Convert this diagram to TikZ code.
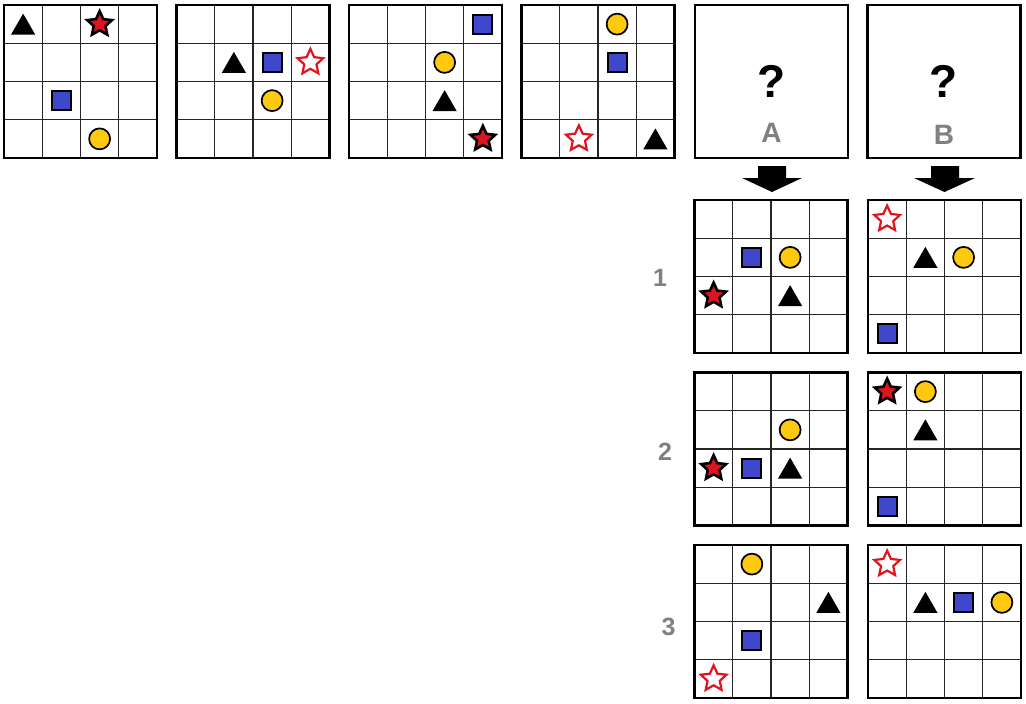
\documentclass[tikz,border=0pt]{standalone}
\usepackage{fontspec}
\setmainfont{Liberation Sans}
\usetikzlibrary{shapes.geometric}
\definecolor{sqblue}{HTML}{3F48CC}
\definecolor{cgold}{HTML}{FFC90E}
\definecolor{sred}{HTML}{E0141E}
\definecolor{lblgray}{HTML}{808080}
\tikzset{
  gridbox/.style={draw=black, line width=2.5pt, minimum size=153pt, inner sep=0pt, outer sep=0pt, fill=none},
  gridline/.style={draw=black!85, line width=1.2pt},
  tri/.style={regular polygon, regular polygon sides=3, fill=black, minimum size=28pt, inner sep=0pt, yshift=-3.5pt},
  sqr/.style={rectangle, fill=sqblue, draw=black, line width=2pt, minimum size=19pt, inner sep=0pt},
  circ/.style={circle, fill=cgold, draw=black, line width=1.7pt, minimum size=21pt, inner sep=0pt},
  fstar/.style={star, star points=5, star point ratio=2.1, fill=sred, draw=black, line width=2.6pt, minimum size=26pt, inner sep=0pt},
  ostar/.style={star, star points=5, star point ratio=2.1, fill=white, draw=sred, line width=2.2pt, minimum size=27pt, inner sep=0pt},
  qmark/.style={font=\bfseries\fontsize{46}{46}\selectfont, inner sep=0pt},
  boxlbl/.style={font=\bfseries\fontsize{28}{28}\selectfont, text=lblgray, inner sep=0pt},
  rowlbl/.style={font=\bfseries\fontsize{25}{25}\selectfont, text=lblgray, inner sep=0pt},
  bigarrow/.style={fill=black, draw=none}
}
\newcommand\mkgrid[3]{%
  \def\gN{#1}\def\gL{#2}\def\gT{#3}%
  \foreach \k in {1,2,3}{%
    \draw[gridline] ({#2+\k*38.25},{#3}) -- ({#2+\k*38.25},{#3+153});
    \draw[gridline] ({#2},{#3+\k*38.25}) -- ({#2+153},{#3+\k*38.25});
  }%
  \node[gridbox] (#1) at ({#2+76.5},{#3+76.5}) {};%
}
\newcommand\shp[3]{\node[#1] (\gN-#2#3) at ({\gL+(#3-0.5)*38.25},{\gT+(#2-0.5)*38.25}) {};}
\begin{document}
\begin{tikzpicture}[x=1pt,y=-1pt]
\useasboundingbox (0,0) rectangle (1026,704);
\fill[white] (0,0) rectangle (1026,704);

% top row
\mkgrid{g1}{4}{5}
\shp{tri}{1}{1}\shp{fstar}{1}{3}\shp{sqr}{3}{2}\shp{circ}{4}{3}

\mkgrid{g2}{176.5}{5}
\shp{tri}{2}{2}\shp{sqr}{2}{3}\shp{ostar}{2}{4}\shp{circ}{3}{3}

\mkgrid{g3}{349}{5}
\shp{sqr}{1}{4}\shp{circ}{2}{3}\shp{tri}{3}{3}\shp{fstar}{4}{4}

\mkgrid{g4}{521.5}{5}
\shp{circ}{1}{3}\shp{sqr}{2}{3}\shp{ostar}{4}{2}\shp{tri}{4}{4}

% question boxes
\node[gridbox] (qa) at (771.5,81.5) {};
\node[qmark] (qa-q) at (771.5,81) {?};
\node[boxlbl] (qa-l) at (771.5,133) {A};

\node[gridbox] (qb) at (944,81.5) {};
\node[qmark] (qb-q) at (944,81) {?};
\node[boxlbl] (qb-l) at (944,135) {B};

% arrows
\fill[bigarrow] (758,166) -- (786,166) -- (786,178) -- (802,178) -- (772,192) -- (742,178) -- (758,178) -- cycle;
\fill[bigarrow] (931,166) -- (959,166) -- (959,178) -- (975,178) -- (944.5,192) -- (914,178) -- (931,178) -- cycle;

% row labels
\node[rowlbl] (r1) at (660,278) {1};
\node[rowlbl] (r2) at (665,452) {2};
\node[rowlbl] (r3) at (668.5,627) {3};

% option rows
\mkgrid{a1}{694.5}{200}
\shp{sqr}{2}{2}\shp{circ}{2}{3}\shp{fstar}{3}{1}\shp{tri}{3}{3}
\mkgrid{b1}{868}{200}
\shp{ostar}{1}{1}\shp{tri}{2}{2}\shp{circ}{2}{3}\shp{sqr}{4}{1}

\mkgrid{a2}{694.5}{372.5}
\shp{circ}{2}{3}\shp{fstar}{3}{1}\shp{sqr}{3}{2}\shp{tri}{3}{3}
\mkgrid{b2}{868}{372.5}
\shp{fstar}{1}{1}\shp{circ}{1}{2}\shp{tri}{2}{2}\shp{sqr}{4}{1}

\mkgrid{a3}{694.5}{545}
\shp{circ}{1}{2}\shp{tri}{2}{4}\shp{sqr}{3}{2}\shp{ostar}{4}{1}
\mkgrid{b3}{868}{545}
\shp{ostar}{1}{1}\shp{tri}{2}{2}\shp{sqr}{2}{3}\shp{circ}{2}{4}
\end{tikzpicture}
\end{document}
